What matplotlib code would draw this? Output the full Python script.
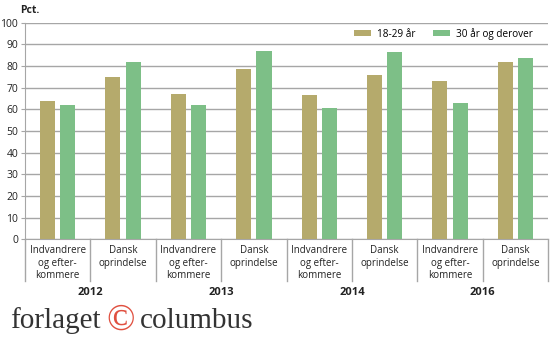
import matplotlib.pyplot as plt
import numpy as np

# values (pct.)
years = ['2012', '2013', '2014', '2016']
groups = ['Indvandrere\nog efter-\nkommere', 'Dansk\noprindelse']
young = [64, 75, 67, 78.6, 66.5, 76, 73.2, 82]      # 18-29 år
older = [62, 82, 62.2, 87, 60.5, 86.3, 63, 83.7]    # 30 år og derover
series_names = ['18-29 år', '30 år og derover']

col_young = '#b5aa6c'
col_older = '#7dbf87'
grid_col = '#a6a6a6'

plt.rcParams['font.family'] = ['Open Sans', 'DejaVu Sans']

fig = plt.figure(figsize=(5.5, 3.4), dpi=100)
ax = fig.add_axes([0.0455, 0.296, 0.951, 0.637])

x = np.arange(len(young))
w = 0.23
ax.bar(x - 0.155, young, w, color=col_young, label=series_names[0], zorder=3)
ax.bar(x + 0.155, older, w, color=col_older, label=series_names[1], zorder=3)

ax.set_xlim(-0.5, len(young) - 0.5)
ax.set_ylim(0, 100)
ax.set_yticks(np.arange(0, 101, 10))
ax.yaxis.grid(True, color=grid_col, lw=1)
ax.set_axisbelow(True)

for s in ['top', 'right']:
    ax.spines[s].set_visible(False)
ax.spines['left'].set_color(grid_col)
ax.spines['bottom'].set_color(grid_col)
ax.tick_params(axis='y', length=3, color=grid_col, labelsize=7.5, pad=2, labelcolor='#222222')

ax.set_xticks(x)
ax.set_xticklabels(groups * len(years), fontsize=7, linespacing=1.2, color='#222222')
ax.tick_params(axis='x', length=0, pad=4)

# separators below the axis
for k in range(len(young) + 1):
    ax.plot([k - 0.5, k - 0.5], [0, -0.19], color=grid_col, lw=1,
            transform=ax.get_xaxis_transform(), clip_on=False)

for i, yr in enumerate(years):
    ax.text(2 * i + 0.5, -0.245, yr, transform=ax.get_xaxis_transform(),
            ha='center', va='center', fontsize=8, fontweight='bold', color='#222222')

fig.text(0.037, 0.968, 'Pct.', fontsize=7.5, fontweight='bold', ha='left', va='center', color='#222222')

ax.legend(loc='center right', bbox_to_anchor=(0.985, 0.95), ncol=2, frameon=False,
          fontsize=7.2, handlelength=1.7, handleheight=0.5, columnspacing=1.8,
          handletextpad=0.6, borderaxespad=0.3)

# publisher mark
fig.text(0.018, 0.035, 'forlaget', family='Liberation Serif', fontsize=21, color='#333333',
         ha='left', va='baseline')
fig.text(0.193, 0.03, '©', family='Liberation Serif', fontsize=27, color='#e05040',
         ha='left', va='baseline')
fig.text(0.2545, 0.035, 'columbus', family='Liberation Serif', fontsize=21, color='#333333',
         ha='left', va='baseline')

fig.savefig('out.png', dpi=100)
